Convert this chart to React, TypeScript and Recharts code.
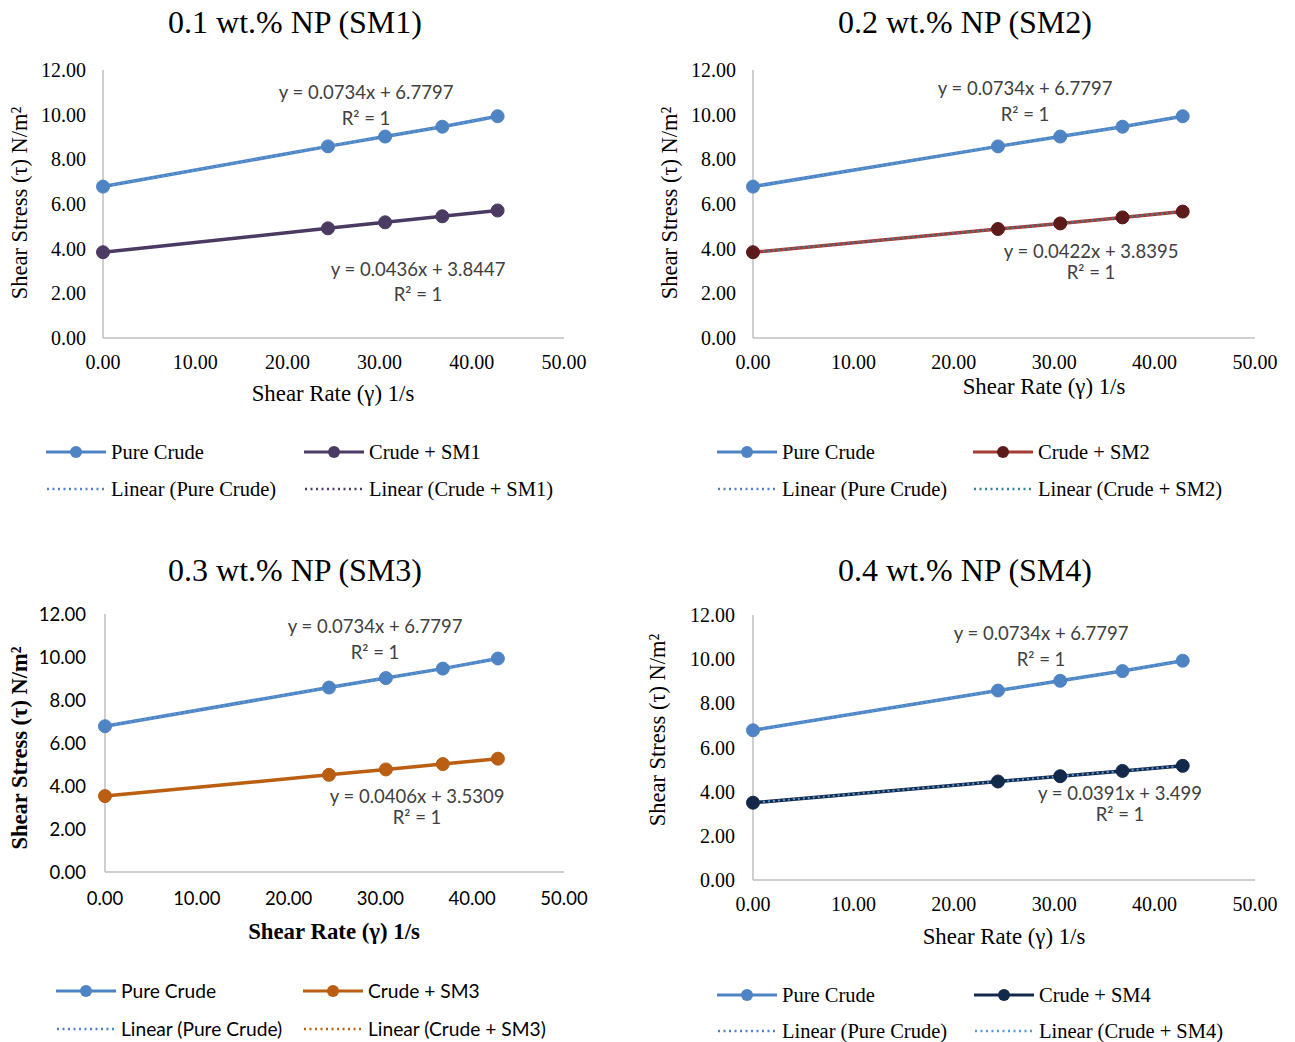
import React from 'react';
import { LineChart, Line, XAxis, YAxis } from 'recharts';

// ---- data ----
const shearRate = [0, 24.4, 30.6, 36.8, 42.8];
const pureCrude = [6.78, 8.58, 9.02, 9.46, 9.93];
const crudeSM1 = [3.84, 4.91, 5.18, 5.45, 5.71];
const crudeSM2 = [3.84, 4.88, 5.13, 5.4, 5.66];
const crudeSM3 = [3.53, 4.52, 4.77, 5.02, 5.27];
const crudeSM4 = [3.5, 4.46, 4.7, 4.94, 5.17];
const yTicks = [0, 2, 4, 6, 8, 10, 12];
const xTicks = [0, 10, 20, 30, 40, 50];
const panelTitles = ['0.1 wt.% NP (SM1)', '0.2 wt.% NP (SM2)', '0.3 wt.% NP (SM3)', '0.4 wt.% NP (SM4)'];
const smNames = ['Crude + SM1', 'Crude + SM2', 'Crude + SM3', 'Crude + SM4'];
const pureEquation = 'y = 0.0734x + 6.7797';
const smEquations = ['y = 0.0436x + 3.8447', 'y = 0.0422x + 3.8395', 'y = 0.0406x + 3.5309', 'y = 0.0391x + 3.499'];
const r2Label = 'R² = 1';
const xTitle = 'Shear Rate (γ) 1/s';
const yTitle = 'Shear Stress (τ) N/m²';

const smSeries = [crudeSM1, crudeSM2, crudeSM3, crudeSM4];

const SERIF = "'Liberation Serif', 'Times New Roman', serif";
const SANS = "Lato, 'Liberation Sans', Arial, sans-serif";
const BLUE = '#4F84C4';
const AXIS = '#BFBFBF';

type Panel = {
  px: number; py: number; W: number; H: number;
  margin: { top: number; left: number; right: number; bottom: number };
  xtm: number; ytm: number;
  tickFont: string; tickSize: number;
  smLine: string; smDot: string; smTrend: string;
  title: { x: number; y: number };
  xt: { x: number; y: number; bold: boolean };
  yt: { x: number; y: number; bold: boolean };
  eq1: { x: number; y: number }; eq2: { x: number; y: number };
  legend: { x1: number; x2: number; y1: number; y2: number; font: string; size: number };
};

const panels: Panel[] = [
  {
    px: 0, py: 0, W: 648, H: 420, margin: { top: 70, left: 43, right: 84, bottom: 42 }, xtm: 17, ytm: 17,
    tickFont: SERIF, tickSize: 20, smLine: '#4B3A62', smDot: '#4B3A62', smTrend: '#4B3A62',
    title: { x: 295, y: 22 }, xt: { x: 333, y: 394, bold: false }, yt: { x: 20, y: 203, bold: false },
    eq1: { x: 366, y: 92 }, eq2: { x: 418, y: 269 },
    legend: { x1: 46, x2: 304, y1: 452, y2: 489, font: SERIF, size: 20.5 },
  },
  {
    px: 647, py: 0, W: 648, H: 420, margin: { top: 70, left: 46, right: 40, bottom: 42 }, xtm: 17, ytm: 17,
    tickFont: SERIF, tickSize: 20, smLine: '#A83A34', smDot: '#5C1A1A', smTrend: '#31859C',
    title: { x: 965, y: 22 }, xt: { x: 1044, y: 387, bold: false }, yt: { x: 670, y: 203, bold: false },
    eq1: { x: 1025, y: 88 }, eq2: { x: 1091, y: 251 },
    legend: { x1: 717, x2: 973, y1: 452, y2: 489, font: SERIF, size: 20.5 },
  },
  {
    px: 0, py: 540, W: 648, H: 420, margin: { top: 74, left: 45, right: 84, bottom: 48 }, xtm: 20, ytm: 19,
    tickFont: SANS, tickSize: 18.5, smLine: '#B95E12', smDot: '#B95E12', smTrend: '#C0600E',
    title: { x: 295, y: 570 }, xt: { x: 334, y: 932, bold: true }, yt: { x: 20, y: 748, bold: true },
    eq1: { x: 375, y: 626 }, eq2: { x: 417, y: 796 },
    legend: { x1: 56, x2: 303, y1: 991, y2: 1029, font: SANS, size: 19.2 },
  },
  {
    px: 647, py: 540, W: 648, H: 420, margin: { top: 75, left: 46, right: 40, bottom: 40 }, xtm: 17, ytm: 18,
    tickFont: SERIF, tickSize: 20, smLine: '#13294B', smDot: '#13294B', smTrend: '#5B9BD5',
    title: { x: 965, y: 570 }, xt: { x: 1004, y: 937, bold: false }, yt: { x: 658, y: 730, bold: false },
    eq1: { x: 1041, y: 633 }, eq2: { x: 1120, y: 793 },
    legend: { x1: 717, x2: 974, y1: 995, y2: 1031, font: SERIF, size: 20.5 },
  },
];

const Abs = ({ x, y, children, style }: any) => (
  <div
    style={{
      position: 'absolute', left: x, top: y, transform: 'translate(-50%, -50%)',
      whiteSpace: 'nowrap', lineHeight: 1, ...style,
    }}
  >
    {children}
  </div>
);

const LegendSample = ({ color, dotColor, dotted }: { color: string; dotColor?: string; dotted?: boolean }) => (
  <svg width={60} height={14} style={{ display: 'block' }}>
    {dotted ? (
      <line x1={1} y1={7} x2={59} y2={7} stroke={color} strokeWidth={2.5} strokeDasharray="2 3.5" />
    ) : (
      <>
        <line x1={0} y1={7} x2={60} y2={7} stroke={color} strokeWidth={3} />
        <circle cx={30} cy={7} r={6} fill={dotColor || color} />
      </>
    )}
  </svg>
);

const LegendItem = ({ x, y, label, font, size, ...rest }: any) => (
  <div style={{ position: 'absolute', left: x, top: y - 7, display: 'flex', alignItems: 'center', height: 14 }}>
    <LegendSample {...rest} />
    <span style={{ marginLeft: 5, fontFamily: font, fontSize: size, color: '#000', whiteSpace: 'nowrap', lineHeight: 1 }}>
      {label}
    </span>
  </div>
);

const fmt = (v: number) => v.toFixed(2);

const PanelView = ({ p, i }: { p: Panel; i: number }) => {
  const sm = smSeries[i];
  const rows = shearRate.map((x, k) => ({ x, pure: pureCrude[k], sm: sm[k] }));
  const tick = { fill: '#000', fontSize: p.tickSize, fontFamily: p.tickFont };
  const eqStyle = { fontFamily: SANS, fontSize: 18.5, color: '#404040' };
  return (
    <>
      <div style={{ position: 'absolute', left: p.px, top: p.py }}>
        <LineChart width={p.W} height={p.H} data={rows} margin={p.margin}>
          <XAxis
            type="number" dataKey="x" domain={[0, 50]} ticks={xTicks} interval={0}
            tickFormatter={fmt} tickLine={false} tickSize={0} tickMargin={p.xtm} height={40}
            axisLine={{ stroke: AXIS, strokeWidth: 1.5 }} tick={tick}
          />
          <YAxis
            type="number" domain={[0, 12]} ticks={yTicks} interval={0} width={60}
            tickFormatter={fmt} tickLine={false} tickSize={0} tickMargin={p.ytm}
            axisLine={{ stroke: AXIS, strokeWidth: 1.5 }} tick={tick}
          />
          <Line
            dataKey="pure" stroke={BLUE} strokeWidth={3.5} isAnimationActive={false}
            dot={{ r: 6.5, fill: BLUE, stroke: BLUE, strokeWidth: 1 }} activeDot={false}
          />
          <Line
            dataKey="sm" stroke={p.smLine} strokeWidth={3.5} isAnimationActive={false}
            dot={{ r: 6.5, fill: p.smDot, stroke: p.smDot, strokeWidth: 1 }} activeDot={false}
          />
          <Line
            dataKey="pure" stroke="#5B9BD5" strokeWidth={2} strokeDasharray="2 3" isAnimationActive={false}
            dot={false} activeDot={false}
          />
          <Line
            dataKey="sm" stroke={p.smTrend} strokeWidth={2} strokeDasharray="2 3" isAnimationActive={false}
            dot={false} activeDot={false}
          />
        </LineChart>
      </div>
      <Abs x={p.title.x} y={p.title.y} style={{ fontFamily: SERIF, fontSize: 32, color: '#000' }}>
        {panelTitles[i]}
      </Abs>
      <Abs x={p.xt.x} y={p.xt.y} style={{ fontFamily: SERIF, fontSize: 22.8, fontWeight: p.xt.bold ? 'bold' : 'normal', color: '#000' }}>
        {xTitle}
      </Abs>
      <Abs
        x={p.yt.x} y={p.yt.y}
        style={{
          fontFamily: SERIF, fontSize: 22.5, fontWeight: p.yt.bold ? 'bold' : 'normal', color: '#000',
          transform: 'translate(-50%, -50%) rotate(-90deg)',
        }}
      >
        {yTitle}
      </Abs>
      <Abs x={p.eq1.x} y={p.eq1.y} style={eqStyle}>{pureEquation}</Abs>
      <Abs x={p.eq1.x} y={p.eq1.y + 26} style={eqStyle}>{r2Label}</Abs>
      <Abs x={p.eq2.x} y={p.eq2.y} style={eqStyle}>{smEquations[i]}</Abs>
      <Abs x={p.eq2.x} y={p.eq2.y + (i === 0 ? 25 : 21)} style={eqStyle}>{r2Label}</Abs>
      <LegendItem x={p.legend.x1} y={p.legend.y1} label="Pure Crude" color={BLUE} font={p.legend.font} size={p.legend.size} />
      <LegendItem x={p.legend.x2} y={p.legend.y1} label={smNames[i]} color={p.smLine} dotColor={p.smDot} font={p.legend.font} size={p.legend.size} />
      <LegendItem x={p.legend.x1} y={p.legend.y2} label="Linear (Pure Crude)" color="#4F84C4" dotted font={p.legend.font} size={p.legend.size} />
      <LegendItem x={p.legend.x2} y={p.legend.y2} label={`Linear (${smNames[i]})`} color={p.smTrend} dotted font={p.legend.font} size={p.legend.size} />
    </>
  );
};

export default function App() {
  return (
    <div style={{ position: 'absolute', left: 0, top: 0, width: 1295, height: 1042, background: '#fff', overflow: 'hidden' }}>
      {panels.map((p, i) => (
        <PanelView key={i} p={p} i={i} />
      ))}
    </div>
  );
}
